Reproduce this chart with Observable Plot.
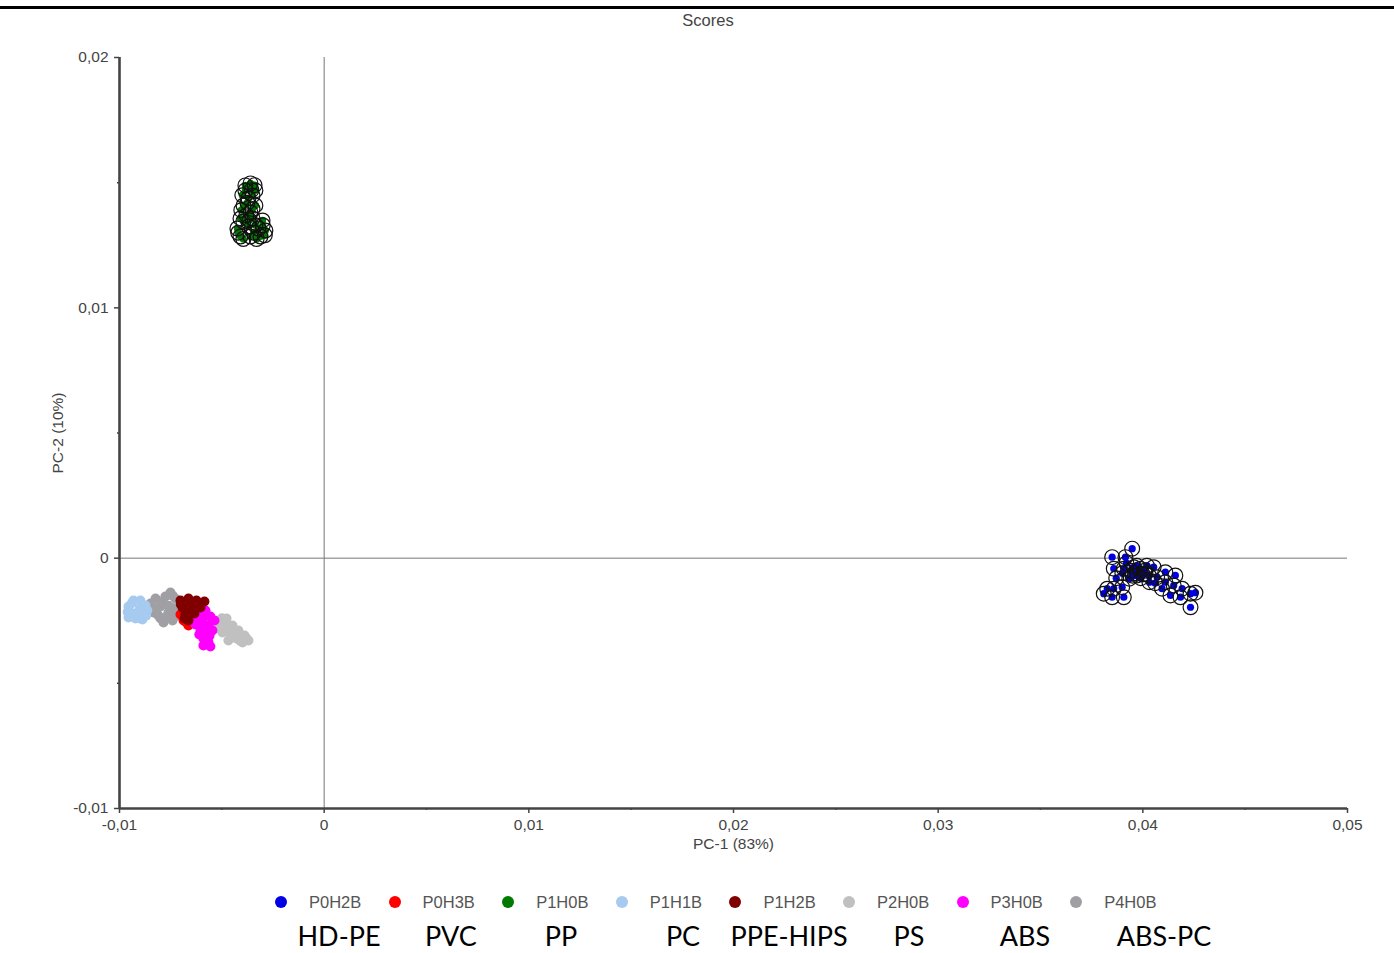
<!DOCTYPE html>
<html>
<head>
<meta charset="utf-8">
<script src="https://cdn.jsdelivr.net/npm/d3@7"></script>
<script src="https://cdn.jsdelivr.net/npm/@observablehq/plot@0.6"></script>
<style>
  html, body { margin: 0; padding: 0; background: #fff; }
  #page { position: relative; width: 1394px; height: 953px; overflow: hidden; font-family: "Liberation Sans", Arial, sans-serif; }
  #topline { position: absolute; left: 0; top: 6px; width: 1394px; height: 3px; background: #000; }
  #title { position: absolute; left: 608px; width: 200px; top: 11px; text-align: center; font-size: 16.5px; color: #444; }
  #chart { position: absolute; left: 0; top: 0; }
  .leg { position: absolute; top: 892px; height: 20px; display: flex; align-items: center; font-size: 16.5px; color: #555; }
  .leg .sw { width: 12px; height: 12px; border-radius: 50%; margin-right: 22px; }
  .mat { position: absolute; top: 920px; line-height: 32px; font-family: "Lato", "Liberation Sans", sans-serif; font-size: 27px; color: #000; transform: translateX(-50%); white-space: nowrap; }
</style>
</head>
<body>
<div id="page">
  <div id="topline"></div>
  <div id="title">Scores</div>
  <div id="chart"></div>
</div>
<script>
// Sample codes, their colours and the polymer each one stands for
const seriesNames = ["P0H2B", "P0H3B", "P1H0B", "P1H1B", "P1H2B", "P2H0B", "P3H0B", "P4H0B"];
const seriesColors = ["#0000e6", "#ff0000", "#007a00", "#a6caf0", "#800000", "#c0c0c0", "#ff00ff", "#a0a0a4"];
const materialNames = ["HD-PE", "PVC", "PP", "PC", "PPE-HIPS", "PS", "ABS", "ABS-PC"];
const materialCenters = [339, 451, 561, 683, 789, 909, 1025, 1164];

// Axis ticks
const xTicks = [-0.01, 0, 0.01, 0.02, 0.03, 0.04, 0.05];
const xMinorTicks = [-0.005, 0.005, 0.015, 0.025, 0.035, 0.045];
const yTicks = [-0.01, 0, 0.01, 0.02];
const yMinorTicks = [-0.005, 0.005, 0.015];

// PCA scores [PC-1, PC-2] per sample group
const P0H2B = [
  [0.03948, 0.00038], [0.03850, 0.00004], [0.03915, 0.00004], [0.03858, -0.00042],
  [0.03907, -0.00042], [0.03956, -0.00036], [0.03988, -0.00042], [0.03972, -0.00069],
  [0.04013, -0.00062], [0.04053, -0.00036], [0.04070, -0.00076], [0.04110, -0.00056],
  [0.04110, -0.00096], [0.04159, -0.00069], [0.04151, -0.00109], [0.04094, -0.00122],
  [0.04192, -0.00122], [0.04135, -0.00149], [0.04184, -0.00156], [0.04233, -0.00142],
  [0.04257, -0.00138], [0.04233, -0.00196], [0.03826, -0.00122], [0.03809, -0.00142],
  [0.03858, -0.00122], [0.03899, -0.00116], [0.03907, -0.00156], [0.03850, -0.00156],
  [0.04032, -0.00096], [0.03934, -0.00082], [0.03960, -0.00060], [0.03990, -0.00080],
  [0.04010, -0.00050], [0.03940, -0.00050], [0.03920, -0.00020], [0.03970, -0.00030],
  [0.04000, -0.00065], [0.03950, -0.00070], [0.04030, -0.00070], [0.04020, -0.00030],
  [0.03900, -0.00060], [0.04060, -0.00100], [0.03870, -0.00080]
];
const P0H3B = [
  [-0.00687, -0.00249], [-0.00663, -0.00269], [-0.00702, -0.00225], [-0.00673, -0.00257]
];
const P1H0B = [
  [-0.00360, 0.01497], [-0.00385, 0.01469], [-0.00336, 0.01469], [-0.00370, 0.01437],
  [-0.00394, 0.01409], [-0.00336, 0.01409], [-0.00360, 0.01381], [-0.00409, 0.01357],
  [-0.00350, 0.01357], [-0.00301, 0.01349], [-0.00424, 0.01317], [-0.00370, 0.01325],
  [-0.00321, 0.01317], [-0.00287, 0.01309], [-0.00409, 0.01285], [-0.00360, 0.01285],
  [-0.00311, 0.01285], [-0.00385, 0.01489], [-0.00350, 0.01449], [-0.00380, 0.01370],
  [-0.00336, 0.01330], [-0.00400, 0.01450], [-0.00340, 0.01490], [-0.00375, 0.01420],
  [-0.00350, 0.01395], [-0.00395, 0.01345], [-0.00300, 0.01330], [-0.00420, 0.01300],
  [-0.00345, 0.01300], [-0.00290, 0.01290], [-0.00395, 0.01275], [-0.00330, 0.01275],
  [-0.00365, 0.01350], [-0.00405, 0.01390], [-0.00355, 0.01470]
];
const P1H1B = [
  [-0.00956, -0.00193], [-0.00932, -0.00169], [-0.00898, -0.00169], [-0.00873, -0.00189],
  [-0.00946, -0.00217], [-0.00912, -0.00217], [-0.00878, -0.00221], [-0.00922, -0.00241],
  [-0.00956, -0.00237], [-0.00888, -0.00245], [-0.00864, -0.00209], [-0.00940, -0.00180],
  [-0.00900, -0.00200], [-0.00925, -0.00225], [-0.00870, -0.00230], [-0.00905, -0.00240],
  [-0.00960, -0.00215]
];
const P1H2B = [
  [-0.00702, -0.00169], [-0.00663, -0.00161], [-0.00624, -0.00169], [-0.00585, -0.00173],
  [-0.00692, -0.00197], [-0.00643, -0.00193], [-0.00604, -0.00197], [-0.00678, -0.00225],
  [-0.00634, -0.00221], [-0.00663, -0.00249], [-0.00682, -0.00241], [-0.00700, -0.00185],
  [-0.00655, -0.00180], [-0.00610, -0.00182], [-0.00650, -0.00210], [-0.00670, -0.00235]
];
const P2H0B = [
  [-0.00507, -0.00257], [-0.00477, -0.00241], [-0.00448, -0.00269], [-0.00497, -0.00297],
  [-0.00458, -0.00301], [-0.00419, -0.00289], [-0.00429, -0.00321], [-0.00389, -0.00309],
  [-0.00370, -0.00329], [-0.00399, -0.00337], [-0.00468, -0.00329], [-0.00516, -0.00281],
  [-0.00490, -0.00270], [-0.00440, -0.00300], [-0.00410, -0.00330], [-0.00455, -0.00285],
  [-0.00380, -0.00320], [-0.00500, -0.00240]
];
const P3H0B = [
  [-0.00614, -0.00217], [-0.00580, -0.00209], [-0.00556, -0.00233], [-0.00595, -0.00249],
  [-0.00565, -0.00269], [-0.00629, -0.00265], [-0.00604, -0.00289], [-0.00575, -0.00297],
  [-0.00590, -0.00321], [-0.00565, -0.00337], [-0.00556, -0.00353], [-0.00590, -0.00349],
  [-0.00546, -0.00289], [-0.00536, -0.00249], [-0.00640, -0.00230], [-0.00620, -0.00245],
  [-0.00600, -0.00270], [-0.00585, -0.00230], [-0.00560, -0.00310], [-0.00610, -0.00305],
  [-0.00580, -0.00330]
];
const P4H0B = [
  [-0.00849, -0.00181], [-0.00824, -0.00161], [-0.00800, -0.00193], [-0.00776, -0.00153],
  [-0.00751, -0.00137], [-0.00727, -0.00161], [-0.00712, -0.00193], [-0.00761, -0.00217],
  [-0.00810, -0.00229], [-0.00785, -0.00257], [-0.00741, -0.00249], [-0.00834, -0.00217],
  [-0.00702, -0.00217], [-0.00820, -0.00200], [-0.00790, -0.00175], [-0.00760, -0.00190],
  [-0.00740, -0.00150], [-0.00800, -0.00240], [-0.00770, -0.00235], [-0.00720, -0.00230],
  [-0.00860, -0.00200], [-0.00735, -0.00200]
];

const rows = (name, pts) => pts.map(([x, y]) => ({group: name, x, y}));
// Drawing order: back to front
const plain = [
  ...rows("P4H0B", P4H0B), ...rows("P1H1B", P1H1B), ...rows("P2H0B", P2H0B),
  ...rows("P0H3B", P0H3B), ...rows("P3H0B", P3H0B), ...rows("P1H2B", P1H2B)
];
const ringed = [...rows("P1H0B", P1H0B), ...rows("P0H2B", P0H2B)];

const fmt = v => v === 0 ? "0" : v.toFixed(2).replace(".", ",");
const axisColor = "#444";

const chart = Plot.plot({
  width: 1394,
  height: 880,
  marginTop: 57,
  marginBottom: 72,
  marginLeft: 119,
  marginRight: 47,
  style: {fontFamily: "'Liberation Sans', Arial, sans-serif", fontSize: "15.5px", color: "#444", background: "transparent"},
  x: {domain: [-0.01, 0.05]},
  y: {domain: [-0.01, 0.02]},
  color: {domain: seriesNames, range: seriesColors},
  marks: [
    // zero reference lines
    Plot.ruleX([0], {stroke: "#777", strokeWidth: 1}),
    Plot.ruleY([0], {stroke: "#777", strokeWidth: 1}),
    // score points without rings
    Plot.dot(plain, {x: "x", y: "y", fill: "group", r: 5}),
    // ringed score points
    Plot.dot(ringed, {x: "x", y: "y", fill: "group", r: 3.6}),
    Plot.dot(ringed, {x: "x", y: "y", r: 7.4, stroke: "#111", strokeWidth: 1.2, fill: "none"}),
    // axes
    Plot.ruleX([-0.01], {stroke: axisColor, strokeWidth: 2.6}),
    Plot.ruleY([-0.01], {stroke: axisColor, strokeWidth: 2.6}),
    Plot.axisX(xTicks, {anchor: "bottom", tickSize: 5, tickPadding: 5, tickFormat: fmt, label: null, stroke: axisColor, strokeWidth: 1.5}),
    Plot.axisX(xMinorTicks, {anchor: "bottom", tickSize: 2, tickFormat: () => "", label: null, stroke: axisColor, strokeWidth: 1.5}),
    Plot.axisY(yTicks, {anchor: "left", tickSize: 5, tickPadding: 6, tickFormat: fmt, label: null, stroke: axisColor, strokeWidth: 1.5}),
    Plot.axisY(yMinorTicks, {anchor: "left", tickSize: 2, tickFormat: () => "", label: null, stroke: axisColor, strokeWidth: 1.5}),
    Plot.text(["PC-1 (83%)"], {frameAnchor: "bottom", dy: 40, fill: "#444"}),
    Plot.text(["PC-2 (10%)"], {frameAnchor: "left", dx: -61, rotate: -90, textAnchor: "middle", fill: "#444"})
  ]
});
document.getElementById("chart").appendChild(chart);

// Legend row and polymer names underneath
const page = document.getElementById("page");
seriesNames.forEach((name, i) => {
  const item = document.createElement("div");
  item.className = "leg";
  item.style.left = (275 + i * 113.6) + "px";
  const sw = document.createElement("span");
  sw.className = "sw";
  sw.style.background = seriesColors[i];
  item.appendChild(sw);
  item.appendChild(document.createTextNode(name));
  page.appendChild(item);

  const mat = document.createElement("div");
  mat.className = "mat";
  mat.style.left = materialCenters[i] + "px";
  mat.textContent = materialNames[i];
  page.appendChild(mat);
});
</script>
</body>
</html>
